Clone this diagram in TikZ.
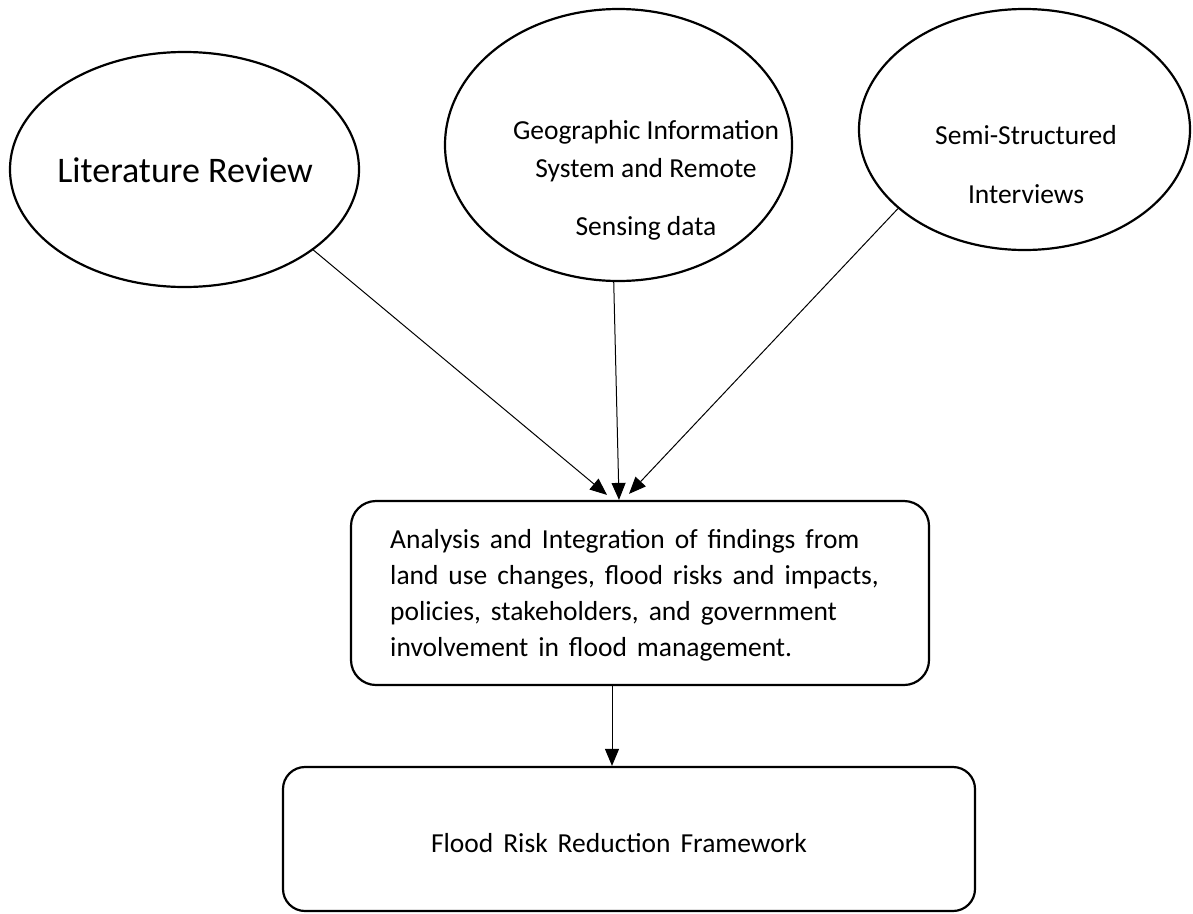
\documentclass[tikz,border=0pt]{standalone}
\usepackage{fontspec}
\setmainfont{Carlito}
\newfontfamily\wideword[WordSpace=1.6]{Carlito}
\usetikzlibrary{arrows.meta,shapes.geometric}
\begin{document}
\begin{tikzpicture}[x=1pt,y=-1pt,
  shapeline/.style={draw, line width=2.2pt},
  ell/.style={shapeline, ellipse, inner sep=0pt},
  rbox/.style={shapeline, rectangle, inner sep=0pt},
  conn/.style={line width=1pt, -{Triangle[length=17pt,width=14pt]}},
  lbl/.style={inner sep=0pt, anchor=base, font=\fontsize{27.5}{33}\selectfont},
  boxtxt/.style={inner sep=0pt, anchor=base west, font=\wideword\fontsize{27.5}{33}\selectfont},
]
\useasboundingbox (0,0) rectangle (1193,913);
% shapes
\node[ell, minimum width=349pt, minimum height=235pt] (e1) at (184.5,169.5) {};
\node[ell, minimum width=347pt, minimum height=272pt] (e2) at (618.5,145) {};
\node[ell, minimum width=331pt, minimum height=241pt] (e3) at (1024.5,129.5) {};
\node[rbox, rounded corners=25pt, minimum width=578pt, minimum height=184pt] (b1) at (640,593) {};
\node[rbox, rounded corners=22pt, minimum width=692pt, minimum height=144pt] (b2) at (629,839) {};
% texts
\node[lbl, font=\fontsize{36}{40}\selectfont] (t1) at (185,182) {Literature Review};
\node[lbl] (t2a) at (646,139) {Geographic Information};
\node[lbl] (t2b) at (646,177) {System and Remote};
\node[lbl] (t2c) at (646,235) {Sensing data};
\node[lbl] (t3a) at (1026,144) {Semi-Structured};
\node[lbl] (t3b) at (1026,203) {Interviews};
\node[boxtxt] (t4a) at (390,548) {Analysis and Integration of findings from};
\node[boxtxt] (t4b) at (390,584) {land use changes, flood risks and impacts,};
\node[boxtxt] (t4c) at (390,620) {policies, stakeholders, and government};
\node[boxtxt] (t4d) at (390,656) {involvement in flood management.};
\node[lbl, font=\wideword\fontsize{27.5}{33}\selectfont] (t5) at (619,852) {Flood Risk Reduction Framework};
% connectors
\draw[conn] (e1.-32.7) -- ([xshift=-33pt,yshift=5pt]b1.north);
\draw[conn] (e2.-92.7) -- ([xshift=-21pt]b1.north);
\draw[conn] (e3.-148.9) -- ([xshift=-11pt,yshift=6pt]b1.north);
\draw[conn] ([xshift=-28pt]b1.south) -- ([xshift=-17pt]b2.north);
\end{tikzpicture}
\end{document}
